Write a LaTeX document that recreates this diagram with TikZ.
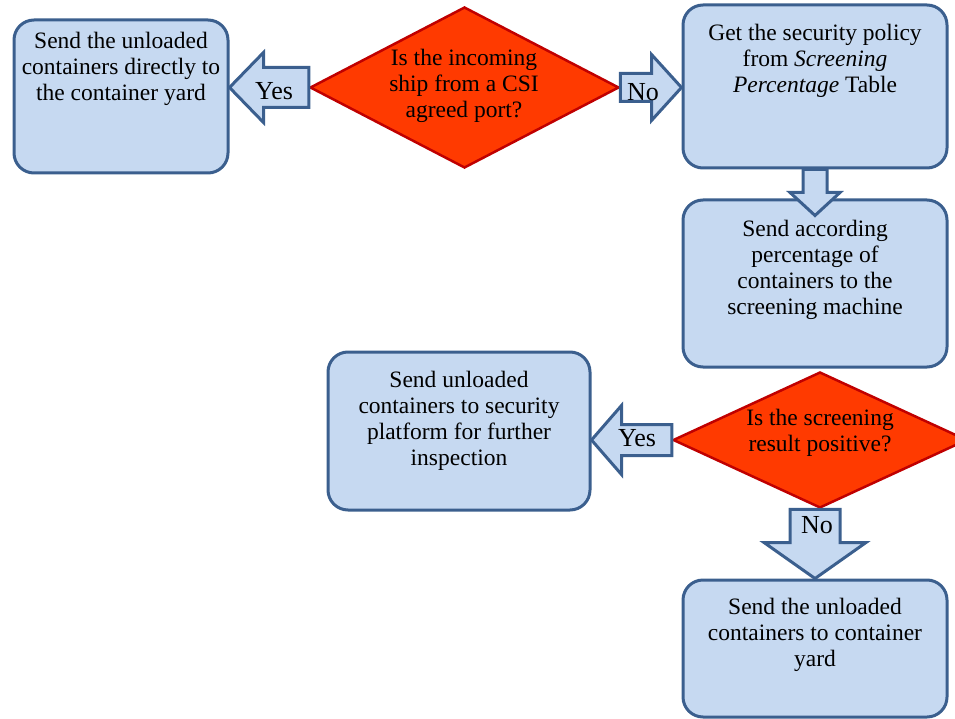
\documentclass[tikz,border=0pt]{standalone}
\usepackage{fontspec}
\setmainfont{Liberation Serif}
\usetikzlibrary{shapes.geometric,calc}

\definecolor{boxfill}{HTML}{C6D9F1}
\definecolor{boxline}{HTML}{3B5F8E}
\definecolor{decfill}{HTML}{FF3A00}
\definecolor{decline}{HTML}{C00000}

\tikzset{
  every node/.style={inner sep=0pt},
  procbox/.style={draw=boxline, fill=boxfill, line width=3pt, rounded corners=20pt,
                  rectangle},
  decision/.style={draw=decline, fill=decfill, line width=2.5pt, diamond},
  boxtext/.style={align=center, font=\fontsize{23.5}{26}\selectfont},
  arrowlabel/.style={font=\fontsize{26}{28}\selectfont},
  blockarrow/.style={draw=boxline, fill=boxfill, line width=3pt, line join=miter},
}

% block arrow: start, tip, shaft half-width, head half-width, head length
\newcommand{\blockarrow}[5]{%
  \coordinate (ba-h) at ($(#2)!#5!(#1)$);
  \draw[blockarrow] ($(#1)!#3!90:(#2)$) -- ($(ba-h)!#3!90:(#2)$)
    -- ($(ba-h)!#4!90:(#2)$) -- (#2) -- ($(ba-h)!#4!-90:(#2)$)
    -- ($(ba-h)!#3!-90:(#2)$) -- ($(#1)!#3!-90:(#2)$) -- cycle;}

\begin{document}
\begin{tikzpicture}[x=1pt, y=1pt]
  \useasboundingbox (0,0) rectangle (955,-719);

  % process boxes
  \node[procbox, minimum width=214pt, minimum height=153pt] (b1) at (121,-96.5) {};
  \node[procbox, minimum width=264pt, minimum height=163pt] (b2) at (815,-86.5) {};
  \node[procbox, minimum width=264pt, minimum height=167pt] (b3) at (815,-283.5) {};
  \node[procbox, minimum width=262pt, minimum height=158pt] (b4) at (459,-431) {};
  \node[procbox, minimum width=264pt, minimum height=137pt] (b5) at (815,-648.5) {};

  % decisions
  \node[decision, minimum width=309pt, minimum height=161pt] (d1) at (464.5,-87.5) {};
  \node[decision, minimum width=294pt, minimum height=136pt] (d2) at (820,-440) {};

  % block arrows between the shapes
  \coordinate (t1) at (b1.east |- d1.west);
  \blockarrow{d1.west}{t1}{20pt}{35pt}{34pt}
  \coordinate (t2) at (b2.west |- d1.east);
  \blockarrow{d1.east}{t2}{14pt}{33pt}{30pt}
  \coordinate (t3) at ($(b3.north)+(0,-17)$);
  \blockarrow{b2.south}{t3}{12pt}{25pt}{23pt}
  \coordinate (t4) at (b4.east |- d2.west);
  \blockarrow{d2.west}{t4}{15.5pt}{34.5pt}{30pt}
  \coordinate (s5) at (b5.north |- d2.south);
  \blockarrow{s5}{b5.north}{25pt}{51pt}{36pt}

  % texts
  \node[boxtext] (b1t) at (121,-69) {Send the unloaded\\containers directly to\\the container yard};
  \node[boxtext] (b2t) at (815,-61) {Get the security policy\\from \textit{Screening}\\\textit{Percentage} Table};
  \node[boxtext] (b3t) at (815,-270) {Send according\\percentage of\\containers to the\\screening machine};
  \node[boxtext] (b4t) at (459,-421) {Send unloaded\\containers to security\\platform for further\\inspection};
  \node[boxtext] (b5t) at (815,-635) {Send the unloaded\\containers to container\\yard};
  \node[boxtext] (d1t) at (464,-86) {Is the incoming\\ship from a CSI\\agreed port?};
  \node[boxtext] (d2t) at (820,-433) {Is the screening\\result positive?};

  % arrow labels
  \node[arrowlabel] (l1) at (274,-91) {Yes};
  \node[arrowlabel] (l2) at (643,-92) {No};
  \node[arrowlabel] (l3) at (637,-438) {Yes};
  \node[arrowlabel] (l4) at (817,-525) {No};
\end{tikzpicture}
\end{document}
